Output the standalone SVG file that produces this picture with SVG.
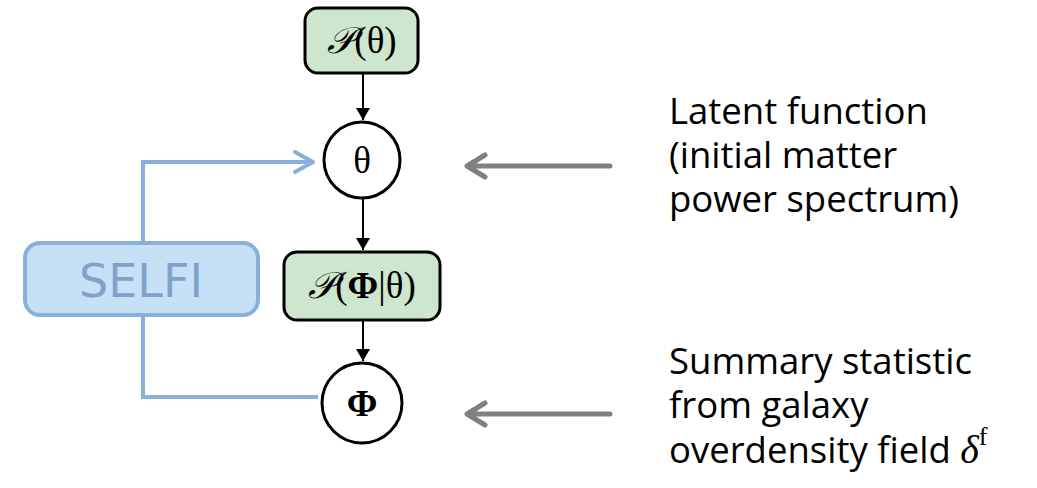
<svg xmlns="http://www.w3.org/2000/svg" width="1037" height="488" viewBox="0 0 1037 488">
<defs>
<style>
.box{fill:#cde6cd;stroke:#000;stroke-width:3}
.circ{fill:#fff;stroke:#000;stroke-width:3}
.math{font-family:"Liberation Serif","DejaVu Serif",serif;font-size:37px;fill:#000}
.edge{stroke:#000;stroke-width:2;fill:none}
.blue{stroke:#89b0da;stroke-width:4;fill:none}
.gray{stroke:#808080;stroke-width:5;fill:none}
.lbl{font-family:"Open Sans",Lato,sans-serif;font-size:36.5px;fill:#000}
</style>
<marker id="ah" markerWidth="12" markerHeight="14" refX="12" refY="7" orient="auto" markerUnits="userSpaceOnUse" viewBox="0 0 12 14">
<path d="M0,0 L12,7 L0,14 Z" fill="#000"/>
</marker>
</defs>
<g id="connectors">
<line class="edge" x1="363" y1="73" x2="363" y2="120" marker-end="url(#ah)"/>
<line class="edge" x1="363" y1="199" x2="363" y2="250" marker-end="url(#ah)"/>
<line class="edge" x1="363" y1="321" x2="363" y2="361" marker-end="url(#ah)"/>
<path class="blue" d="M143,243 V162 H313"/>
<path class="blue" d="M295,152 L313,162 L295,172" stroke-linecap="round" stroke-linejoin="round"/>
<path class="blue" d="M143,315 V397 H318"/>
<path class="gray" d="M610,166 H467 M485,155 L467,166 L485,177" stroke-linecap="round" stroke-linejoin="round"/>
<path class="gray" d="M610,414 H467 M485,403 L467,414 L485,425" stroke-linecap="round" stroke-linejoin="round"/>
</g>
<g id="prior">
<rect class="box" x="305" y="8" width="113" height="65" rx="13"/>
<text class="math" x="362" y="53" text-anchor="middle"><tspan font-style="italic">𝒫</tspan>(θ)</text>
</g>
<g id="theta">
<circle class="circ" cx="362" cy="160" r="38"/>
<text class="math" x="362" y="173" text-anchor="middle">θ</text>
</g>
<g id="likelihood">
<rect class="box" x="284" y="252" width="156" height="68" rx="13"/>
<text class="math" x="362" y="298" text-anchor="middle"><tspan font-style="italic">𝒫</tspan>(<tspan font-weight="bold">Φ</tspan>|θ)</text>
</g>
<g id="phi">
<circle class="circ" cx="362" cy="403" r="40"/>
<text class="math" x="362" y="416" text-anchor="middle" font-weight="bold" font-size="35">Φ</text>
</g>
<g id="selfi">
<rect x="25" y="243" width="233" height="72" rx="15" fill="#c6e0f6" stroke="#89b0da" stroke-width="4"/>
<text x="141" y="297" text-anchor="middle" font-family="DejaVu Sans,sans-serif" font-size="46" fill="#7fa3c8">SELFI</text>
</g>
<g id="label-latent">
<text class="lbl" x="669" y="124">Latent function</text>
<text class="lbl" x="669" y="168">(initial matter</text>
<text class="lbl" x="669" y="212">power spectrum)</text>
</g>
<g id="label-summary">
<text class="lbl" x="669" y="374">Summary statistic</text>
<text class="lbl" x="669" y="418">from galaxy</text>
<text class="lbl" x="669" y="463">overdensity field <tspan font-family="Liberation Serif,serif" font-style="italic" font-size="40">δ</tspan><tspan font-family="Liberation Serif,serif" font-size="26" dy="-18">f</tspan></text>
</g>
</svg>
